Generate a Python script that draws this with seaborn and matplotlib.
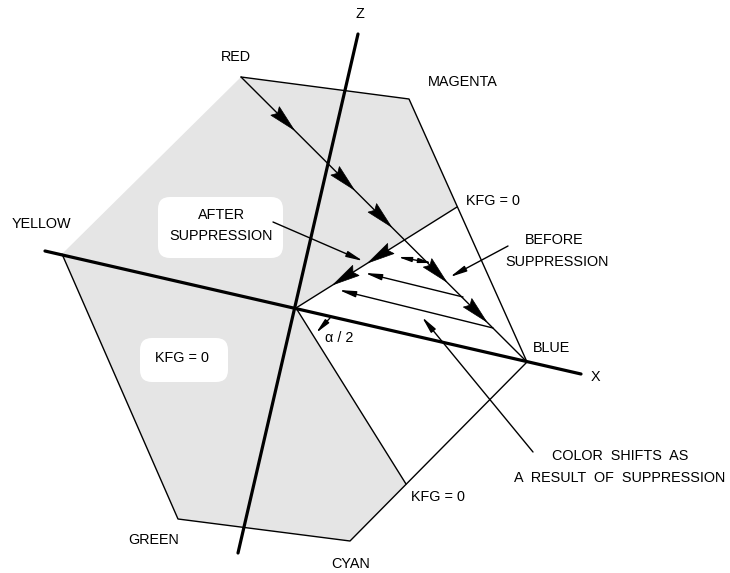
import matplotlib
matplotlib.use("Agg")
import matplotlib.pyplot as plt
import seaborn as sns
import numpy as np
import pandas as pd
from matplotlib.patches import Polygon, FancyBboxPatch

# ── Diagram geometry (image pixel coords, y downward) ─────────────────────────
HEX_NAMES = ["RED", "MAGENTA", "BLUE", "CYAN", "GREEN", "YELLOW"]
HEX_X = [241, 409, 527, 350, 178, 62]
HEX_Y = [77, 99, 362, 541, 519, 254]

ORIGIN = (296, 308)
KFG_UP = (457, 207)
KFG_LOW = (406, 484)

Z_AXIS_X = [358, 238]
Z_AXIS_Y = [34, 553]
X_AXIS_X = [45, 581]
X_AXIS_Y = [251, 374]

# positions (fraction along line) of the big arrowheads
RED_BLUE_HEADS = [0.186, 0.396, 0.526, 0.719, 0.859]
KFG_LINE_HEADS = [0.447, 0.23]

# thin arrows: (x_from, y_from, x_to, y_to, style, head scale)
THIN_ARROWS = [
    (398, 257, 432, 263, "<|-|>", 7),
    (463, 297, 365, 273, "-|>", 9),
    (493, 328, 339, 290, "-|>", 9),
    (273, 222, 363, 261, "-|>", 9),
    (508, 246, 450, 277, "-|>", 9),
    (533, 452, 422, 317, "-|>", 9),
    (330, 318, 316, 333, "-|>", 8),
]

LABELS = [
    ("Z", 360, 14), ("RED", 236, 57), ("MAGENTA", 463, 82),
    ("KFG = 0", 493, 201), ("BEFORE", 554, 240), ("SUPPRESSION", 557, 262),
    ("YELLOW", 41, 224), ("AFTER", 221, 215), ("SUPPRESSION", 221, 236),
    ("KFG = 0", 182, 358), ("α / 2", 339, 338), ("BLUE", 552, 348),
    ("X", 595, 377), ("COLOR  SHIFTS  AS", 620, 456),
    ("A  RESULT  OF  SUPPRESSION", 620, 478), ("KFG = 0", 438, 497),
    ("CYAN", 351, 564), ("GREEN", 154, 540),
]

# white rounded boxes behind labels: (x0, y0, x1, y1)
BOXES = [(158, 197, 283, 258), (140, 338, 228, 382)]

# ── Figure ────────────────────────────────────────────────────────────────────
sns.set_theme(style="white")
plt.rcParams["font.family"] = ["Liberation Sans", "DejaVu Sans"]

fig = plt.figure(figsize=(7.3, 5.73), dpi=100)
ax = fig.add_axes([0, 0, 1, 1])
ax.set_xlim(0, 730)
ax.set_ylim(573, 0)
ax.axis("off")

hexv = dict(zip(HEX_NAMES, zip(HEX_X, HEX_Y)))
GRAY = "#e5e5e5"
THIN = 1.0
THICK = 2.3

# gray region = hexagon minus the white wedge origin–KFG_UP–BLUE–KFG_LOW
gray_pts = [hexv["RED"], hexv["MAGENTA"], KFG_UP, ORIGIN, KFG_LOW,
            hexv["CYAN"], hexv["GREEN"], hexv["YELLOW"]]
ax.add_patch(Polygon(gray_pts, closed=True, facecolor=GRAY, edgecolor="none", zorder=0))

# white rounded label boxes
for x0, y0, x1, y1 in BOXES:
    ax.add_patch(FancyBboxPatch((x0 + 12, y0 + 12), x1 - x0 - 24, y1 - y0 - 24,
                                boxstyle="round,pad=12", facecolor="white",
                                edgecolor="none", zorder=1))

# hexagon outline
edges = pd.DataFrame({"x": HEX_X + [HEX_X[0]], "y": HEX_Y + [HEX_Y[0]]})
sns.lineplot(data=edges, x="x", y="y", sort=False, color="black", lw=THIN, ax=ax, zorder=3)

# KFG = 0 lines from origin
for p in (KFG_UP, KFG_LOW):
    ax.plot([ORIGIN[0], p[0]], [ORIGIN[1], p[1]], color="black", lw=THIN, zorder=3)

# red → blue trajectory
rx, ry = hexv["RED"]
bx, by = hexv["BLUE"]
ax.plot([rx, bx], [ry, by], color="black", lw=THIN, zorder=3)

# thick axes
sns.lineplot(x=Z_AXIS_X, y=Z_AXIS_Y, sort=False, color="black", lw=THICK, ax=ax, zorder=4)
sns.lineplot(x=X_AXIS_X, y=X_AXIS_Y, sort=False, color="black", lw=THICK, ax=ax, zorder=4)


def big_head(p0, p1, t, L=27, w=6.0, notch=3.5):
    p0 = np.array(p0, float)
    p1 = np.array(p1, float)
    d = (p1 - p0) / np.linalg.norm(p1 - p0)
    n = np.array([-d[1], d[0]])
    tip = p0 + t * (p1 - p0)
    pts = [tip, tip - L * d + w * n, tip - (L - notch) * d, tip - L * d - w * n]
    ax.add_patch(Polygon(pts, closed=True, facecolor="black", edgecolor="black",
                         lw=0.5, zorder=5))


for t in RED_BLUE_HEADS:
    big_head(hexv["RED"], hexv["BLUE"], t)
for t in KFG_LINE_HEADS:
    big_head(KFG_UP, ORIGIN, 1 - t)

for x0, y0, x1, y1, style, ms in THIN_ARROWS:
    ax.annotate("", xy=(x1, y1), xytext=(x0, y0),
                arrowprops=dict(arrowstyle=f"{style},head_length=1.1,head_width=0.2",
                                mutation_scale=ms, color="black", lw=THIN,
                                shrinkA=0, shrinkB=0),
                zorder=5)

for txt, x, y in LABELS:
    ax.text(x, y, txt, ha="center", va="center", fontsize=10.4, color="black", zorder=6)

fig.savefig("out.png", dpi=100)
